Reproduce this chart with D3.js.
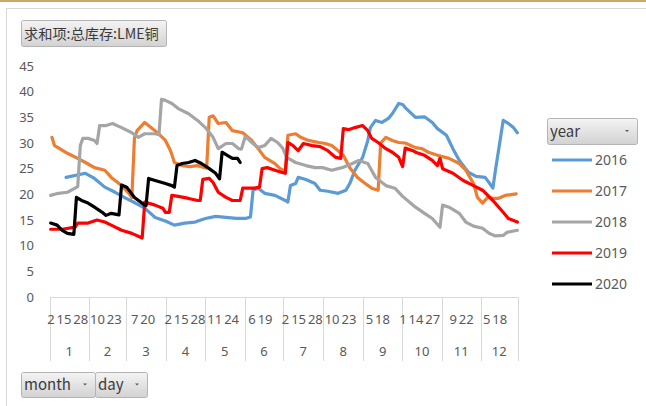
<!DOCTYPE html>
<html>
<head>
<meta charset="utf-8">
<script src="https://cdn.jsdelivr.net/npm/d3@7"></script>
<style>
    body { margin: 0; background: #fff; }
    svg { display: block; }
</style>
</head>
<body>
<svg id="chart" width="646" height="406"></svg>
<script>
// month -> first/last day shown in the pivot, days with no data in any year are skipped
const monthLabels = ['1', '2', '3', '4', '5', '6', '7', '8', '9', '10', '11', '12'];
const dayRanges = [[2, 31], [1, 29], [1, 31], [1, 30], [1, 31], [1, 30], [1, 31], [1, 31], [1, 30], [1, 31], [1, 30], [1, 31]];
const skipDays = ['12-25', '12-26'];
const labelInterval = 13;
const yTicks = [0, 5, 10, 15, 20, 25, 30, 35, 40, 45];
const years = ['2016', '2017', '2018', '2019', '2020'];
const colors = ['#5B9BD5', '#ED7D31', '#A5A5A5', '#FF0000', '#000000'];

// [month, day, value]
const s2016 = [[1,14,23.3],[1,29,24.1],[2,5,23.1],[2,13,21.4],[2,21,20.4],[2,28,19.4],[3,7,18.4],[3,15,17.3],[3,23,15.5],[3,31,14.8],[4,7,14.0],[4,15,14.4],[4,23,14.6],[5,1,15.3],[5,9,15.7],[5,17,15.5],[5,25,15.3],[6,1,15.3],[6,5,15.6],[6,7,20.8],[6,11,21.2],[6,16,20.2],[6,24,19.8],[7,2,18.8],[7,4,18.5],[7,6,21.7],[7,10,22.1],[7,12,23.3],[7,18,22.9],[7,25,22.1],[7,29,20.8],[8,4,20.6],[8,12,20.2],[8,18,20.8],[8,21,22.1],[8,25,24.7],[8,31,27.2],[9,4,30.5],[9,6,33.0],[9,10,34.4],[9,15,34.0],[9,20,34.8],[9,23,35.7],[9,28,37.7],[10,1,37.5],[10,3,36.9],[10,11,35.0],[10,18,35.1],[10,24,34.0],[10,28,32.8],[11,4,31.5],[11,9,28.9],[11,14,26.6],[11,21,24.3],[11,27,23.5],[12,4,23.3],[12,7,22.3],[12,10,21.2],[12,12,24.7],[12,16,31.1],[12,18,34.4],[12,22,33.8],[12,28,33.0],[12,31,32.0]];
const s2017 = [[1,3,31.1],[1,5,29.5],[1,9,28.9],[1,15,28.0],[1,23,27.0],[1,29,26.2],[2,5,25.2],[2,13,24.7],[2,18,23.3],[2,26,21.7],[3,2,20.4],[3,5,19.4],[3,7,31.0],[3,9,32.4],[3,15,34.0],[3,21,32.8],[3,27,31.5],[3,31,30.5],[4,4,28.5],[4,7,26.2],[4,13,25.6],[4,19,25.4],[4,25,25.6],[5,2,25.1],[5,4,35.0],[5,7,35.3],[5,11,33.8],[5,17,34.0],[5,22,32.4],[5,30,32.0],[6,6,30.5],[6,11,28.9],[6,16,27.2],[6,24,26.0],[6,28,25.0],[7,2,24.5],[7,4,31.5],[7,10,31.8],[7,14,31.1],[7,20,30.5],[7,28,30.1],[8,2,29.9],[8,7,29.5],[8,12,28.5],[8,16,27.6],[8,21,25.2],[8,27,23.3],[9,2,22.1],[9,7,21.2],[9,12,20.8],[9,14,30.0],[9,18,31.1],[9,23,30.5],[9,28,30.1],[10,3,30.0],[10,11,29.1],[10,16,28.9],[10,21,28.2],[10,28,27.6],[11,6,27.0],[11,14,26.0],[11,19,24.7],[11,25,22.1],[11,28,19.4],[12,2,18.3],[12,6,19.4],[12,10,19.2],[12,14,19.2],[12,20,19.8],[12,30,20.1]];
const s2018 = [[1,2,19.8],[1,8,20.2],[1,15,20.4],[1,21,21.2],[1,23,21.5],[1,25,29.5],[1,27,30.9],[1,31,30.9],[2,5,30.5],[2,7,29.9],[2,9,33.4],[2,14,33.4],[2,19,33.8],[2,26,33.0],[3,5,32.0],[3,10,31.1],[3,15,31.8],[3,23,31.8],[3,26,31.6],[3,28,38.5],[3,31,38.3],[4,5,37.7],[4,10,36.7],[4,18,35.7],[4,25,34.4],[5,1,33.0],[5,7,31.1],[5,11,28.9],[5,17,29.9],[5,22,29.9],[5,27,28.9],[5,29,28.8],[6,1,31.3],[6,6,30.1],[6,11,29.1],[6,16,29.5],[6,21,30.9],[6,26,30.1],[6,30,29.0],[7,3,27.2],[7,10,26.2],[7,18,25.6],[7,25,25.2],[7,31,25.2],[8,7,24.7],[8,15,25.2],[8,23,26.0],[8,28,26.6],[9,4,26.0],[9,10,23.3],[9,18,21.7],[9,25,21.2],[10,1,19.6],[10,11,17.5],[10,18,16.3],[10,24,15.3],[10,30,13.6],[11,1,17.9],[11,6,17.5],[11,14,16.3],[11,19,14.6],[11,25,13.8],[12,2,13.4],[12,7,12.4],[12,12,11.9],[12,18,12.0],[12,21,12.6],[12,31,13.0]];
const s2019 = [[1,2,13.2],[1,11,13.2],[1,21,13.6],[1,23,14.4],[1,31,14.4],[2,7,15.0],[2,13,14.6],[2,18,14.0],[2,26,13.0],[3,5,12.4],[3,13,11.5],[3,15,18.5],[3,23,17.9],[3,29,17.3],[3,31,16.5],[4,3,16.5],[4,5,19.8],[4,10,19.6],[4,18,19.2],[4,25,18.8],[4,27,18.8],[4,29,22.9],[5,4,23.1],[5,7,22.3],[5,11,20.4],[5,17,19.4],[5,22,18.8],[5,28,18.8],[5,30,21.2],[6,3,21.2],[6,8,21.2],[6,12,21.4],[6,14,25.0],[6,18,25.2],[6,24,24.7],[6,29,24.3],[7,2,24.1],[7,4,30.1],[7,8,29.5],[7,12,28.5],[7,16,29.9],[7,23,29.5],[7,29,29.3],[8,4,28.5],[8,10,27.2],[8,14,27.0],[8,16,32.8],[8,20,32.6],[8,25,33.0],[8,31,33.4],[9,4,32.4],[9,7,30.9],[9,12,30.1],[9,18,28.9],[9,23,28.2],[9,28,27.2],[10,1,25.4],[10,3,29.0],[10,9,28.5],[10,11,28.2],[10,18,27.6],[10,24,26.6],[10,28,25.6],[10,30,27.0],[11,1,25.0],[11,9,24.1],[11,17,22.7],[11,25,21.7],[12,2,20.8],[12,10,18.8],[12,18,16.5],[12,22,15.3],[12,31,14.6]];
const s2020 = [[1,2,14.4],[1,7,14.0],[1,11,13.0],[1,15,12.4],[1,20,12.2],[1,22,19.4],[1,26,18.8],[1,31,18.3],[2,5,17.5],[2,11,16.5],[2,14,15.9],[2,18,16.3],[2,24,16.0],[2,26,21.8],[3,1,21.4],[3,7,19.4],[3,15,17.9],[3,16,17.8],[3,18,23.1],[3,23,22.7],[3,31,22.1],[4,5,21.7],[4,7,21.4],[4,9,25.6],[4,13,26.0],[4,18,26.2],[4,23,26.6],[4,28,26.0],[5,4,25.0],[5,9,24.1],[5,12,23.0],[5,14,28.2],[5,18,27.6],[5,22,27.0],[5,26,27.0],[5,28,26.2]];
const seriesData = [s2016, s2017, s2018, s2019, s2020];

////////////////////////////////////////////////////////
const numFont = '"Noto Sans", sans-serif';
const cjkFont = '"Noto Sans CJK SC", "Noto Sans", sans-serif';
const textColor = '#595959';

// build the month/day category list
const categories = [];
dayRanges.forEach((r, i) => {
    d3.range(r[0], r[1] + 1).forEach(d => {
        const key = (i + 1) + '-' + d;
        if (!skipDays.includes(key)) categories.push({ m: i + 1, d: d, key: key });
    });
});

const plot = { left: 50, right: 518, top: 66, bottom: 297 };

const x = d3.scalePoint()
    .domain(categories.map(c => c.key))
    .range([plot.left, plot.right])
    .padding(0.5);
const step = x.step();

const y = d3.scaleLinear()
    .domain([0, 45])
    .range([plot.bottom, plot.top]);

const svg = d3.select('#chart');

// gradient for the pivot field buttons
const grad = svg.append('defs').append('linearGradient')
    .attr('id', 'btnGrad').attr('x1', 0).attr('y1', 0).attr('x2', 0).attr('y2', 1);
grad.append('stop').attr('offset', '0%').attr('stop-color', '#f4f4f4');
grad.append('stop').attr('offset', '100%').attr('stop-color', '#d2d2d2');

// page frame
svg.append('rect').attr('x', 0).attr('y', 0).attr('width', 646).attr('height', 2).attr('fill', '#c9a86c');
svg.append('rect')
    .attr('x', 6.5).attr('y', 8.5).attr('width', 700).attr('height', 500)
    .attr('fill', '#fff').attr('stroke', '#d9d9d9');

// y axis, labels only
svg.append('g')
    .attr('transform', 'translate(' + plot.left + ',0)')
    .call(d3.axisLeft(y).tickValues(yTicks).tickSize(0).tickPadding(16))
    .call(g => g.select('.domain').remove())
    .attr('font-family', numFont)
    .attr('font-size', 13)
    .attr('color', textColor);

// x axis: two level category axis
const axisY = y(0) + 0.5;
const axisBottom = 361;
const xAxis = svg.append('g').attr('class', 'x axis');

xAxis.append('line')
    .attr('x1', plot.left).attr('x2', plot.right)
    .attr('y1', axisY).attr('y2', axisY)
    .attr('stroke', '#d9d9d9');

const monthEdges = monthLabels.map(m => x(categories.find(c => c.m === +m).key) - step / 2);
monthEdges.push(plot.right);

xAxis.selectAll('.sep')
    .data(monthEdges)
    .enter().append('line')
    .attr('class', 'sep')
    .attr('x1', d => Math.round(d) + 0.5).attr('x2', d => Math.round(d) + 0.5)
    .attr('y1', axisY).attr('y2', axisBottom)
    .attr('stroke', '#d9d9d9');

xAxis.selectAll('.day')
    .data(categories.filter((c, i) => i % labelInterval === 0))
    .enter().append('text')
    .attr('class', 'day')
    .attr('x', d => x(d.key) + 4)
    .attr('y', 324)
    .attr('text-anchor', 'end')
    .attr('font-family', numFont)
    .attr('font-size', 13)
    .attr('fill', textColor)
    .text(d => d.d);

xAxis.selectAll('.month')
    .data(monthLabels)
    .enter().append('text')
    .attr('class', 'month')
    .attr('x', (d, i) => (monthEdges[i] + monthEdges[i + 1]) / 2)
    .attr('y', 356)
    .attr('text-anchor', 'middle')
    .attr('font-family', numFont)
    .attr('font-size', 13)
    .attr('fill', textColor)
    .text(d => d);

// series lines
const line = d3.line()
    .x(d => x(d[0] + '-' + d[1]))
    .y(d => y(d[2]));

svg.append('g').selectAll('.series')
    .data(seriesData)
    .enter().append('path')
    .attr('class', 'series')
    .attr('d', line)
    .attr('fill', 'none')
    .attr('stroke', (d, i) => colors[i])
    .attr('stroke-width', 3.2)
    .attr('stroke-linejoin', 'round')
    .attr('stroke-linecap', 'round');

// legend
const legend = svg.append('g').attr('transform', 'translate(552,160)');
const rows = legend.selectAll('.row')
    .data(years)
    .enter().append('g')
    .attr('class', 'row')
    .attr('transform', (d, i) => 'translate(0,' + (i * 31) + ')');
rows.append('line')
    .attr('x1', 0).attr('x2', 40)
    .attr('stroke', (d, i) => colors[i])
    .attr('stroke-width', 3.2);
rows.append('text')
    .attr('x', 43).attr('y', 5)
    .attr('font-family', numFont)
    .attr('font-size', 14)
    .attr('fill', textColor)
    .text(d => d);

// pivot field buttons
function fieldButton(bx, by, w, h, label, arrow, size) {
    const g = svg.append('g').attr('transform', 'translate(' + bx + ',' + by + ')');
    g.append('rect')
        .attr('x', 0.5).attr('y', 0.5).attr('width', w).attr('height', h)
        .attr('rx', 2)
        .attr('fill', 'url(#btnGrad)')
        .attr('stroke', '#b4b4b4');
    g.append('text')
        .attr('x', 3).attr('y', h / 2 + 5.5)
        .attr('font-family', cjkFont)
        .attr('font-size', size)
        .attr('fill', '#3a3a3a')
        .text(label);
    if (arrow) {
        const ax = w - 10, ay = h / 2;
        g.append('path')
            .attr('d', 'M' + (ax - 2) + ',' + (ay - 1) + 'h4l-2,2z')
            .attr('fill', '#595959');
    }
}

fieldButton(21, 20, 145, 26, '求和项:总库存:LME铜', false, 14.2);
fieldButton(547, 118, 90, 26, 'year', true, 15);
fieldButton(21, 372, 74, 25, 'month', true, 15);
fieldButton(95, 372, 52, 25, 'day', true, 15);
</script>
</body>
</html>
